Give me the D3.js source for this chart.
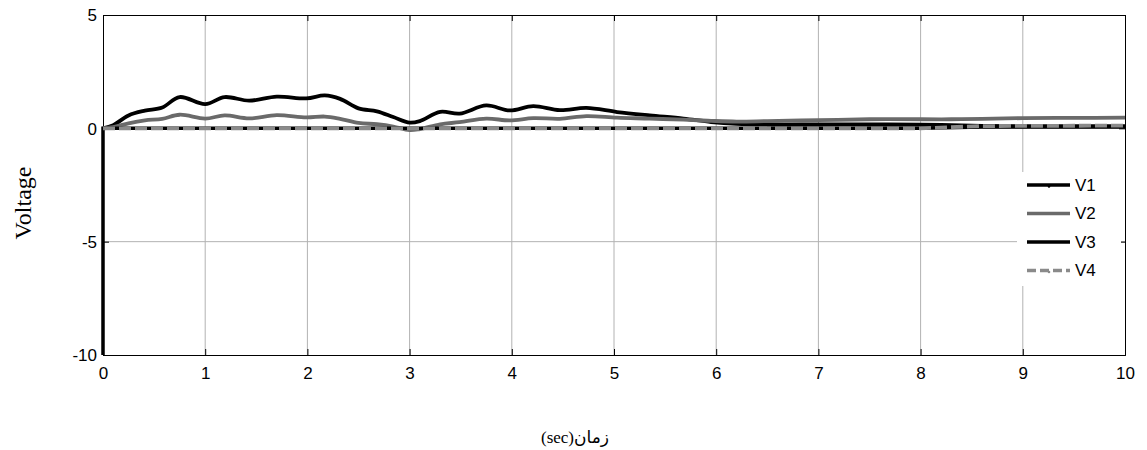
<!DOCTYPE html>
<html>
<head>
<meta charset="utf-8">
<script src="https://cdn.jsdelivr.net/npm/d3@7"></script>
<style>
  html, body { margin: 0; padding: 0; background: #fff; }
  svg { display: block; }
</style>
</head>
<body>
<svg id="chart" width="1147" height="450"></svg>
<script>
// Sample times (sec) for the two oscillating bus voltages
const timeA = [0, 0.1, 0.25, 0.41, 0.58, 0.75, 1.0, 1.19, 1.43, 1.7, 1.99, 2.17, 2.32, 2.5, 2.68, 2.84, 3.0, 3.1, 3.3, 3.49, 3.75, 3.98, 4.21, 4.47, 4.73, 5.03, 5.35, 5.68, 5.95, 6.2, 6.5, 7.0, 7.5, 8.0, 8.3, 8.6, 9.0, 9.5, 10];
const v1 = [0, 0.14, 0.57, 0.78, 0.92, 1.38, 1.07, 1.38, 1.22, 1.4, 1.32, 1.45, 1.3, 0.88, 0.75, 0.5, 0.25, 0.32, 0.73, 0.65, 1.01, 0.79, 0.98, 0.8, 0.9, 0.72, 0.57, 0.43, 0.28, 0.2, 0.17, 0.17, 0.17, 0.16, 0.14, 0.11, 0.1, 0.1, 0.1];
const v2 = [0, 0.05, 0.22, 0.35, 0.42, 0.6, 0.43, 0.57, 0.44, 0.58, 0.48, 0.52, 0.42, 0.24, 0.18, 0.08, -0.08, -0.03, 0.18, 0.27, 0.43, 0.35, 0.45, 0.42, 0.54, 0.47, 0.43, 0.38, 0.33, 0.3, 0.32, 0.36, 0.4, 0.4, 0.4, 0.42, 0.45, 0.46, 0.47];
// The remaining two voltages stay near zero after the initial step
const timeB = [0, 0, 8.0, 8.6, 10];
const v3 = [-10, 0, 0, 0.06, 0.06];
const timeC = [0, 8.0, 8.6, 10];
const v4 = [0, 0, 0.1, 0.12];

const seriesNames = ["V1", "V2", "V3", "V4"];
const xTicks = [0, 1, 2, 3, 4, 5, 6, 7, 8, 9, 10];
const yTicks = [5, 0, -5, -10];

const svg = d3.select("#chart");
const plotLeft = 103, plotRight = 1125, plotTop = 15, plotBottom = 355;

const x = d3.scaleLinear().domain([0, 10]).range([plotLeft, plotRight]);
const y = d3.scaleLinear().domain([-10, 5]).range([plotBottom, plotTop]);

// clip to the axes box, with a little slack on the left so the t=0 step keeps its full width
svg.append("defs").append("clipPath").attr("id", "plotClip")
  .append("rect").attr("x", plotLeft - 2).attr("y", plotTop)
  .attr("width", plotRight - plotLeft + 2).attr("height", plotBottom - plotTop);

// grid
const grid = svg.append("g");
grid.selectAll("line.vx").data(xTicks.filter(d => d > 0 && d < 10)).join("line")
  .attr("x1", d => x(d)).attr("x2", d => x(d))
  .attr("y1", plotTop).attr("y2", plotBottom)
  .attr("stroke", "#b2b2b2").attr("stroke-width", 1);
grid.selectAll("line.hy").data(yTicks.filter(d => d > -10 && d < 5)).join("line")
  .attr("x1", plotLeft).attr("x2", plotRight)
  .attr("y1", d => y(d)).attr("y2", d => y(d))
  .attr("stroke", "#b2b2b2").attr("stroke-width", 1);

// axes with inward ticks
const tickLen = 6;
const plainNum = d => String(d);
const xAxis = svg.append("g").attr("transform", `translate(0,${plotBottom})`)
  .call(d3.axisBottom(x).tickValues(xTicks).tickSize(-tickLen).tickPadding(12).tickFormat(plainNum));
const xAxisTop = svg.append("g").attr("transform", `translate(0,${plotTop})`)
  .call(d3.axisTop(x).tickValues(xTicks).tickSize(-tickLen).tickFormat(""));
const yAxis = svg.append("g").attr("transform", `translate(${plotLeft},0)`)
  .call(d3.axisLeft(y).tickValues(yTicks).tickSize(-tickLen).tickPadding(6).tickFormat(plainNum));
const yAxisRight = svg.append("g").attr("transform", `translate(${plotRight},0)`)
  .call(d3.axisRight(y).tickValues(yTicks).tickSize(-tickLen).tickFormat(""));

[xAxis, xAxisTop, yAxis, yAxisRight].forEach(g => {
  g.select(".domain").attr("stroke", "#000").attr("stroke-width", 1);
  g.selectAll(".tick line").attr("stroke", "#000");
  g.selectAll("text").attr("fill", "#000")
    .style("font-family", "'Liberation Sans', Arial, sans-serif").style("font-size", "17px");
});
xAxis.selectAll("text").attr("dy", "0.72em");
yAxis.selectAll("text").attr("dy", "0.35em");

// series
const lineGen = d3.line().x(d => x(d[0])).y(d => y(d[1]));
const smooth = d3.line().x(d => x(d[0])).y(d => y(d[1])).curve(d3.curveCatmullRom.alpha(0.5));
const plot = svg.append("g").attr("clip-path", "url(#plotClip)");

const styles = [
  { stroke: "#000000", width: 3.8, dash: null },
  { stroke: "#6a6a6a", width: 3.8, dash: null },
  { stroke: "#000000", width: 3.5, dash: null },
  { stroke: "#8a8a8a", width: 3.8, dash: "12,4" }
];

plot.append("path").datum(d3.zip(timeA, v1)).attr("d", smooth)
  .attr("fill", "none").attr("stroke", styles[0].stroke).attr("stroke-width", styles[0].width).attr("stroke-linejoin", "round");
plot.append("path").datum(d3.zip(timeA, v2)).attr("d", smooth)
  .attr("fill", "none").attr("stroke", styles[1].stroke).attr("stroke-width", styles[1].width).attr("stroke-linejoin", "round");
plot.append("path").datum(d3.zip(timeB, v3)).attr("d", lineGen)
  .attr("fill", "none").attr("stroke", styles[2].stroke).attr("stroke-width", styles[2].width);
plot.append("path").datum(d3.zip(timeC, v4)).attr("d", lineGen)
  .attr("fill", "none").attr("stroke", styles[3].stroke).attr("stroke-width", styles[3].width)
  .attr("stroke-dasharray", styles[3].dash);

// legend
const lg = svg.append("g");
lg.append("rect").attr("x", 1017).attr("y", 172).attr("width", 104).attr("height", 114).attr("fill", "#fff");
seriesNames.forEach((name, i) => {
  const yy = 185 + i * 28.5;
  const s = styles[i];
  lg.append("line").attr("x1", 1027).attr("x2", 1070).attr("y1", yy).attr("y2", yy)
    .attr("stroke", s.stroke).attr("stroke-width", 3.5)
    .attr("stroke-dasharray", s.dash ? "9,4" : null);
  if (i === 0 || i === 3) {
    lg.append("circle").attr("cx", 1049).attr("cy", yy + 1.5).attr("r", 1.3)
      .attr("fill", s.stroke);
  }
  lg.append("text").attr("x", 1075).attr("y", yy).attr("dy", "0.35em")
    .style("font-family", "'Liberation Sans', Arial, sans-serif").style("font-size", "17px")
    .text(name);
});

// axis titles
svg.append("text").attr("transform", `translate(23,203) rotate(-90)`)
  .attr("text-anchor", "middle").attr("dy", "0.35em")
  .style("font-family", "'Liberation Serif', 'Times New Roman', serif").style("font-size", "24px")
  .text("Voltage");
svg.append("text").attr("x", 575).attr("y", 437).attr("text-anchor", "middle").attr("dy", "0.35em")
  .style("font-family", "'Liberation Serif', 'Times New Roman', 'DejaVu Sans', serif").style("font-size", "17px")
  .text("(sec)زمان");
</script>
</body>
</html>
